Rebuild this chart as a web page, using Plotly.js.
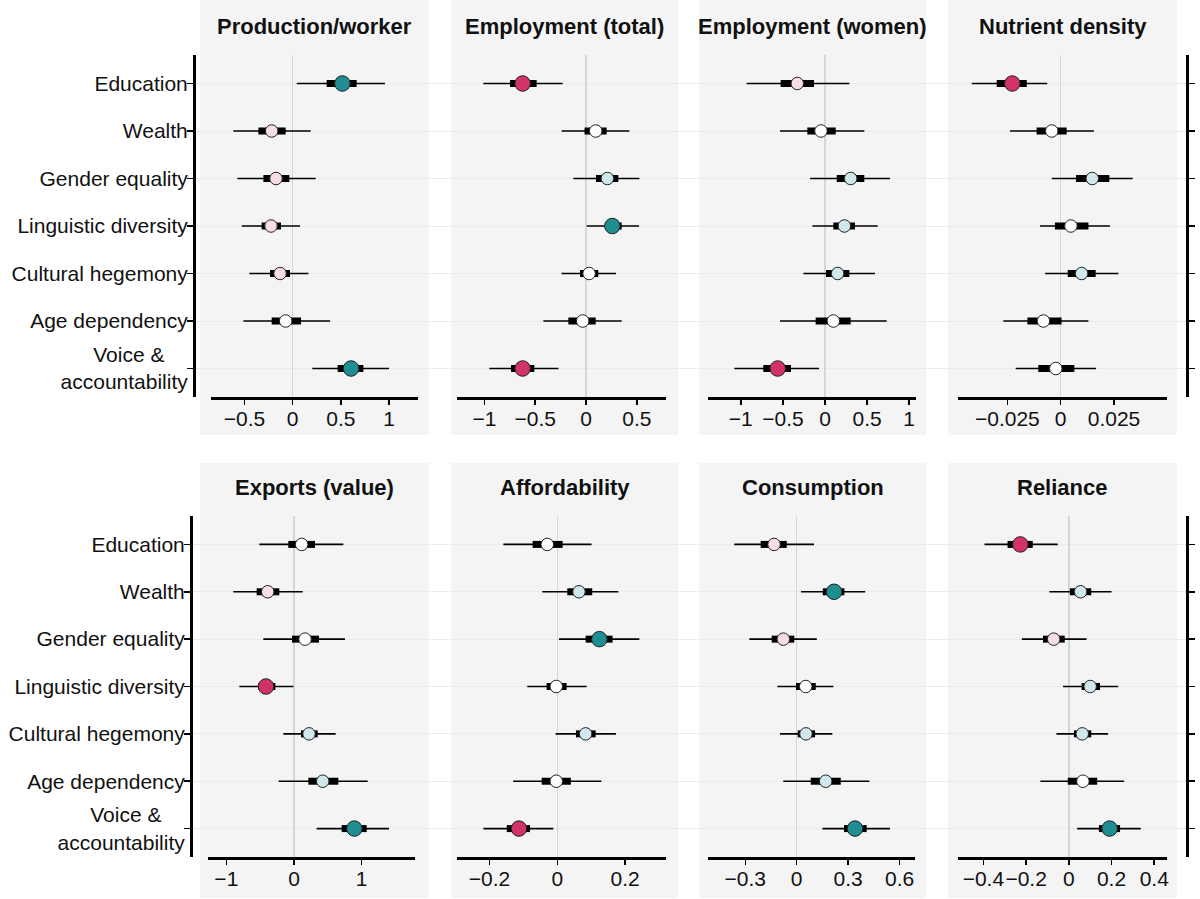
<!DOCTYPE html>
<html>
<head>
<meta charset="utf-8">
<script src="https://cdn.plot.ly/plotly-3.0.1.min.js"></script>
<style>
  html, body { margin: 0; padding: 0; background: #fff; }
  #chart { width: 1200px; height: 899px; }
</style>
</head>
<body>
<div id="chart"></div>
<script>
/* Eight forest-plot panels: estimate, 50% band (thick), 95% band (thin) */

const categories = ['Education', 'Wealth', 'Gender equality', 'Linguistic diversity',
  'Cultural hegemony', 'Age dependency', 'Voice &amp;&nbsp;&nbsp;&nbsp;&nbsp;<br>accountability'];

const panelTitles = ['Production/worker', 'Employment (total)', 'Employment (women)', 'Nutrient density',
  'Exports (value)', 'Affordability', 'Consumption', 'Reliance'];

// ---- Production/worker ----
const prodEst   = [0.516, -0.218, -0.173, -0.225, -0.131, -0.073, 0.606];
const prodInner = [[0.353, 0.664], [-0.356, -0.073], [-0.304, -0.035], [-0.322, -0.121], [-0.235, -0.028], [-0.218, 0.087], [0.467, 0.734]];
const prodOuter = [[0.042, 0.958], [-0.616, 0.187], [-0.574, 0.239], [-0.529, 0.076], [-0.45, 0.163], [-0.512, 0.388], [0.204, 1.0]];

// ---- Employment (total) ----
const empTotEst   = [-0.624, 0.095, 0.21, 0.259, 0.03, -0.033, -0.624];
const empTotInner = [[-0.748, -0.486], [-0.015, 0.203], [0.098, 0.318], [0.187, 0.351], [-0.059, 0.121], [-0.174, 0.095], [-0.738, -0.509]];
const empTotOuter = [[-1.011, -0.23], [-0.24, 0.427], [-0.125, 0.525], [0.007, 0.522], [-0.24, 0.295], [-0.42, 0.351], [-0.952, -0.272]];

// ---- Employment (women) ----
const empWomEst   = [-0.329, -0.048, 0.305, 0.23, 0.15, 0.099, -0.562];
const empWomInner = [[-0.527, -0.131], [-0.21, 0.127], [0.139, 0.467], [0.099, 0.356], [0.012, 0.289], [-0.111, 0.305], [-0.733, -0.404]];
const empWomOuter = [[-0.931, 0.289], [-0.535, 0.467], [-0.178, 0.772], [-0.15, 0.626], [-0.257, 0.594], [-0.535, 0.733], [-1.077, -0.071]];

// ---- Nutrient density ----
const nutrEst   = [-0.0227, -0.0042, 0.0148, 0.0048, 0.0098, -0.0081, -0.0023];
const nutrInner = [[-0.030, -0.0159], [-0.0113, 0.0028], [0.0072, 0.0228], [-0.0027, 0.013], [0.0033, 0.0164], [-0.0156, 0.0004], [-0.0105, 0.0064]];
const nutrOuter = [[-0.0417, -0.0063], [-0.0238, 0.0156], [-0.0042, 0.0338], [-0.0097, 0.0231], [-0.0073, 0.027], [-0.0269, 0.013], [-0.0211, 0.0166]];

// ---- Exports (value) ----
const expEst   = [0.113, -0.389, 0.163, -0.414, 0.222, 0.424, 0.892];
const expInner = [[-0.084, 0.31], [-0.552, -0.217], [-0.03, 0.369], [-0.527, -0.276], [0.103, 0.35], [0.212, 0.655], [0.704, 1.074]];
const expOuter = [[-0.512, 0.729], [-0.897, 0.128], [-0.453, 0.754], [-0.808, -0.01], [-0.158, 0.616], [-0.227, 1.089], [0.335, 1.404]];

// ---- Affordability ----
const affEst   = [-0.0295, 0.0639, 0.124, -0.003, 0.0835, -0.003, -0.113];
const affInner = [[-0.0727, 0.0157], [0.0295, 0.103], [0.0835, 0.163], [-0.0314, 0.0275], [0.055, 0.113], [-0.046, 0.04], [-0.149, -0.0806]];
const affOuter = [[-0.159, 0.101], [-0.0442, 0.18], [0.005, 0.242], [-0.0885, 0.0865], [-0.005, 0.173], [-0.13, 0.13], [-0.218, -0.0118]];

// ---- Consumption ----
const consEst   = [-0.132, 0.218, -0.078, 0.0525, 0.054, 0.169, 0.34];
const consInner = [[-0.21, -0.058], [0.152, 0.278], [-0.146, -0.014], [-0.004, 0.111], [0.006, 0.107], [0.082, 0.257], [0.276, 0.408]];
const consOuter = [[-0.364, 0.101], [0.025, 0.399], [-0.276, 0.117], [-0.113, 0.214], [-0.097, 0.208], [-0.078, 0.424], [0.15, 0.544]];

// ---- Reliance ----
const relEst   = [-0.227, 0.055, -0.071, 0.1, 0.063, 0.066, 0.191];
const relInner = [[-0.287, -0.169], [0.005, 0.105], [-0.121, -0.019], [0.06, 0.146], [0.024, 0.105], [-0.005, 0.133], [0.141, 0.24]];
const relOuter = [[-0.395, -0.052], [-0.091, 0.2], [-0.22, 0.083], [-0.027, 0.231], [-0.058, 0.184], [-0.133, 0.259], [0.039, 0.337]];

// x tick labels per panel
const prodTicks   = [-0.5, 0, 0.5, 1];
const empTotTicks = [-1, -0.5, 0, 0.5];
const empWomTicks = [-1, -0.5, 0, 0.5, 1];
const nutrTicks   = [-0.025, 0, 0.025];
const expTicks    = [-1, 0, 1];
const affTicks    = [-0.2, 0, 0.2];
const consTicks   = [-0.3, 0, 0.3, 0.6];
const relTicks    = [-0.4, -0.2, 0, 0.2, 0.4];

// ---- layout geometry (pixels in a 1200 x 899 page) ----
const W = 1200, H = 899;
const FONT = 'Liberation Sans, Arial, Helvetica, sans-serif';
const COLORS = { teal: '#1e8e92', red: '#d23366', pink: '#f8dde5', cyan: '#cfe8ec', white: '#ffffff' };

const panelDefs = [
  { est: prodEst,   inner: prodInner,   outer: prodOuter,   ticks: prodTicks,   range: [-0.848, 1.301],    dom: [211, 418] },
  { est: empTotEst, inner: empTotInner, outer: empTotOuter, ticks: empTotTicks, range: [-1.27, 0.787],     dom: [457, 666] },
  { est: empWomEst, inner: empWomInner, outer: empWomOuter, ticks: empWomTicks, range: [-1.39, 1.081],     dom: [708, 916] },
  { est: nutrEst,   inner: nutrInner,   outer: nutrOuter,   ticks: nutrTicks,   range: [-0.04814, 0.04984], dom: [958, 1167] },
  { est: expEst,    inner: expInner,    outer: expOuter,    ticks: expTicks,    range: [-1.271, 1.788],    dom: [208, 415] },
  { est: affEst,    inner: affInner,    outer: affOuter,    ticks: affTicks,    range: [-0.2957, 0.3205],  dom: [457, 666] },
  { est: consEst,   inner: consInner,   outer: consOuter,   ticks: consTicks,   range: [-0.5172, 0.6898],  dom: [708, 915] },
  { est: relEst,    inner: relInner,    outer: relOuter,    ticks: relTicks,    range: [-0.519, 0.4598],   dom: [958, 1167] }
];

// rows: plot area top/bottom, left/right axis x, title y, grey panel top/bottom
const rows = [
  { top: 55,  bottom: 397, left: 194, right: 1187, titleY: 27,  bgTop: 0,   bgBottom: 435 },
  { top: 516, bottom: 857, left: 191, right: 1187, titleY: 487, bgTop: 463, bgBottom: 898 }
];
const bgCols = [[200, 429], [451, 678], [699, 926], [948, 1177]];

const yIdx = categories.map((_, i) => i);
const yRange = [6.6, -0.6];

function colorFor(est, inner, outer) {
  if (outer[0] > 0) return 'teal';
  if (outer[1] < 0) return 'red';
  if (inner[0] > 0) return 'cyan';
  if (inner[1] < 0) return 'pink';
  return 'white';
}

function segs(pairs) {
  const x = [], y = [];
  pairs.forEach((p, i) => { x.push(p[0], p[1], null); y.push(i, i, null); });
  return { x, y };
}

const traces = [];
const layout = {
  width: W, height: H,
  margin: { l: 0, r: 0, t: 0, b: 0 },
  paper_bgcolor: '#ffffff',
  plot_bgcolor: 'rgba(0,0,0,0)',
  showlegend: false,
  font: { family: FONT, color: '#111', size: 20 },
  shapes: [],
  annotations: [],
  // full-width invisible axis (drawn first) so row grid lines run from axis to axis
  xaxis: { domain: [191 / W, 1187 / W], anchor: 'y', range: [0, 1], visible: false, fixedrange: true }
};

rows.forEach((r, ri) => {
  const yName = ri === 0 ? 'y' : 'y2';
  const yKey = ri === 0 ? 'yaxis' : 'yaxis2';
  const rName = ri === 0 ? 'y3' : 'y4';
  const rKey = ri === 0 ? 'yaxis3' : 'yaxis4';
  const domain = [1 - r.bottom / H, 1 - r.top / H];

  layout[yKey] = {
    domain, range: yRange, tickvals: yIdx, ticktext: categories,
    anchor: 'free', position: r.left / W,
    showline: true, linewidth: 2.5, linecolor: '#000',
    ticks: 'outside', ticklen: 6, tickwidth: 1.5, tickcolor: '#000',
    ticklabelstandoff: -5,
    showgrid: true, gridcolor: '#ebebeb', gridwidth: 1, zeroline: false,
    tickfont: { family: FONT, size: 21, color: '#111' }, fixedrange: true
  };
  layout[rKey] = {
    overlaying: yName, side: 'right', range: yRange, tickvals: yIdx,
    anchor: 'free', position: r.right / W,
    showline: true, linewidth: 2.5, linecolor: '#000',
    ticks: 'outside', ticklen: 6, tickwidth: 1.5, tickcolor: '#000',
    showticklabels: false, showgrid: false, zeroline: false, fixedrange: true
  };
  traces.push({ x: [null], y: [null], xaxis: 'x', yaxis: yName, mode: 'markers', hoverinfo: 'skip' });
  traces.push({ x: [null], y: [null], xaxis: 'x', yaxis: rName, mode: 'markers', hoverinfo: 'skip' });

  bgCols.forEach(c => {
    layout.shapes.push({
      type: 'rect', xref: 'paper', yref: 'paper', layer: 'below',
      x0: c[0] / W, x1: c[1] / W, y0: 1 - r.bgBottom / H, y1: 1 - r.bgTop / H,
      fillcolor: '#f4f4f4', line: { width: 0 }
    });
  });
});

panelDefs.forEach((p, i) => {
  const ri = i < 4 ? 0 : 1;
  const r = rows[ri];
  const xName = 'x' + (i + 2);
  const xKey = 'xaxis' + (i + 2);
  const yName = ri === 0 ? 'y' : 'y2';

  layout[xKey] = {
    domain: [p.dom[0] / W, p.dom[1] / W], range: p.range, anchor: yName,
    tickvals: p.ticks, tickangle: 0, ticklabelstandoff: -4,
    showline: true, linewidth: 2.5, linecolor: '#000',
    ticks: 'outside', ticklen: 5, tickwidth: 1.5, tickcolor: '#000',
    showgrid: false, zeroline: true, zerolinecolor: '#d6d6d6', zerolinewidth: 1.5,
    tickfont: { family: FONT, size: 21, color: '#111' }, fixedrange: true
  };

  const outer = segs(p.outer);
  traces.push({
    x: outer.x, y: outer.y, xaxis: xName, yaxis: yName, mode: 'lines',
    line: { color: '#000', width: 1.6 }, hoverinfo: 'skip'
  });
  const inner = segs(p.inner);
  traces.push({
    x: inner.x, y: inner.y, xaxis: xName, yaxis: yName, mode: 'lines',
    line: { color: '#000', width: 7 }, hoverinfo: 'skip'
  });
  const cls = p.est.map((e, k) => colorFor(e, p.inner[k], p.outer[k]));
  traces.push({
    x: p.est, y: yIdx, xaxis: xName, yaxis: yName, mode: 'markers',
    marker: {
      color: cls.map(c => COLORS[c]),
      size: cls.map(c => (c === 'teal' || c === 'red') ? 15.5 : 12.5),
      opacity: 1,
      line: { color: '#222', width: 1 }
    },
    hoverinfo: 'skip'
  });

  const bc = bgCols[i % 4];
  layout.annotations.push({
    text: panelTitles[i], xref: 'paper', yref: 'paper',
    x: (bc[0] + bc[1]) / 2 / W, y: 1 - r.titleY / H,
    xanchor: 'center', yanchor: 'middle', showarrow: false,
    font: { family: FONT, size: 22, color: '#111', weight: 'bold' }
  });
});

Plotly.newPlot('chart', traces, layout, { displayModeBar: false, staticPlot: true });
</script>
</body>
</html>
